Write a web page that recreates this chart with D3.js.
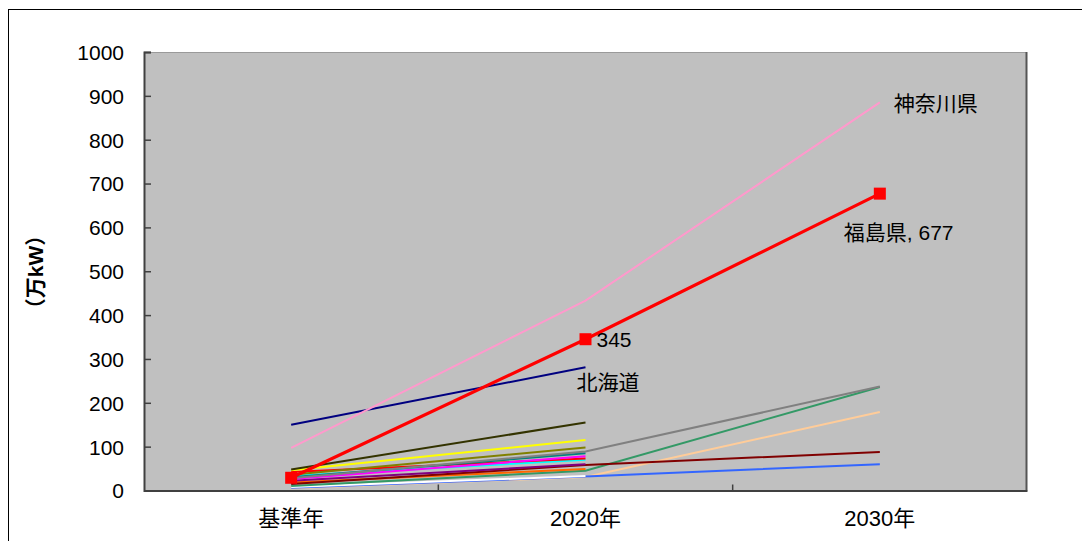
<!DOCTYPE html>
<html>
<head>
<meta charset="utf-8">
<script src="https://cdn.jsdelivr.net/npm/d3@7"></script>
<style>
  html, body { margin: 0; padding: 0; background: #fff; }
  svg { display: block; }
  text { font-family: "Liberation Sans", "Noto Sans CJK JP", sans-serif; fill: #000; }
</style>
</head>
<body>
<svg id="chart" width="1082" height="541"></svg>
<script>
// Categories along the x axis
const categories = ["基準年", "2020年", "2030年"];
const yTicks = [0, 100, 200, 300, 400, 500, 600, 700, 800, 900, 1000];

// Prefecture series (万kW); null = no value for that year
const hokkaido   = [150, 281, null];
const kanagawa   = [97, 433, 885];
const fukushima  = [29, 345, 677];
const seriesD    = [48, 155, null];
const seriesE    = [46, 115, null];
const seriesF    = [36, 98, null];
const seriesG    = [28, 89, 237];
const seriesH    = [30, 85, null];
const seriesI    = [26, 78, null];
const seriesJ    = [42, 73, null];
const seriesK    = [33, 70, null];
const seriesL    = [22, 60, null];
const seriesM    = [15, 58, 88];
const seriesN    = [18, 49, null];
const seriesO    = [10, 45, 236];
const seriesP    = [8, 33, null];
const seriesQ    = [6, 32, 60];
const seriesR    = [5, 31, 179];

const series = [
  { values: seriesR, color: "#FFCC99", width: 2 },
  { values: seriesQ, color: "#3366FF", width: 2 },
  { values: seriesP, color: "#FFFFFF", width: 2 },
  { values: seriesO, color: "#339966", width: 2 },
  { values: seriesN, color: "#FF6600", width: 2 },
  { values: seriesM, color: "#800000", width: 2 },
  { values: seriesL, color: "#800080", width: 2 },
  { values: seriesK, color: "#00FFFF", width: 2 },
  { values: seriesJ, color: "#FF0000", width: 2 },
  { values: seriesI, color: "#FF00FF", width: 2 },
  { values: seriesH, color: "#008080", width: 2 },
  { values: seriesG, color: "#808080", width: 2 },
  { values: seriesF, color: "#808000", width: 2 },
  { values: seriesE, color: "#FFFF00", width: 2 },
  { values: seriesD, color: "#333300", width: 2 },
  { values: hokkaido, color: "#000080", width: 2 },
  { values: kanagawa, color: "#FF99CC", width: 2 },
];

const svg = d3.select("#chart");

// Outer chart frame
svg.append("rect")
  .attr("x", 8.5).attr("y", 9.5)
  .attr("width", 1200).attr("height", 700)
  .attr("fill", "#fff").attr("stroke", "#000").attr("stroke-width", 1);

const plot = { left: 144, top: 52, right: 1027, bottom: 490.5 };

const x = d3.scaleBand().domain(categories).range([plot.left, plot.right]).padding(0);
const y = d3.scaleLinear().domain([0, 1000]).range([plot.bottom, plot.top]);
const cx = c => x(c) + x.bandwidth() / 2;

// Plot area
svg.append("rect")
  .attr("x", plot.left).attr("y", plot.top)
  .attr("width", plot.right - plot.left).attr("height", plot.bottom - plot.top)
  .attr("fill", "#C0C0C0");
svg.append("line")
  .attr("x1", plot.left).attr("x2", plot.right)
  .attr("y1", plot.top + 0.5).attr("y2", plot.top + 0.5)
  .attr("stroke", "#9a9a9a").attr("stroke-width", 1);
svg.append("line")
  .attr("x1", plot.right - 0.5).attr("x2", plot.right - 0.5)
  .attr("y1", plot.top).attr("y2", plot.bottom)
  .attr("stroke", "#555").attr("stroke-width", 2);

const line = d3.line()
  .defined(d => d.v != null)
  .x(d => cx(d.c))
  .y(d => y(d.v));

const toPts = vals => categories.map((c, i) => ({ c, v: vals[i] }));

const lines = svg.append("g");
series.forEach(s => {
  lines.append("path")
    .attr("d", line(toPts(s.values)))
    .attr("fill", "none")
    .attr("stroke", s.color)
    .attr("stroke-width", s.width);
});

// Fukushima highlighted
lines.append("path")
  .attr("d", line(toPts(fukushima)))
  .attr("fill", "none")
  .attr("stroke", "#FF0000")
  .attr("stroke-width", 3.2);
lines.selectAll("rect.mk")
  .data(toPts(fukushima))
  .join("rect")
  .attr("class", "mk")
  .attr("x", d => cx(d.c) - 6).attr("y", d => y(d.v) - 6)
  .attr("width", 12).attr("height", 12)
  .attr("fill", "#FF0000");

// Axes
const yAxis = d3.axisLeft(y).tickValues(yTicks).tickFormat(d3.format("d")).tickSize(-7).tickPadding(20);
const gy = svg.append("g").attr("transform", `translate(${plot.left},0)`).call(yAxis);
gy.select(".domain").attr("stroke", "#404040").attr("stroke-width", 2);
gy.selectAll(".tick line").attr("stroke", "#404040").attr("stroke-width", 1.5);
gy.selectAll(".tick text").attr("font-size", 21).attr("dy", "0.35em")
  .attr("font-family", "'Liberation Sans', sans-serif");

const xAxis = d3.axisBottom(x).tickSize(0).tickPadding(20);
const gx = svg.append("g").attr("transform", `translate(0,${plot.bottom})`).call(xAxis);
gx.select(".domain").attr("stroke", "#404040").attr("stroke-width", 2);
gx.selectAll(".tick text").attr("font-size", 22)
  .attr("font-family", "'Liberation Sans', 'Noto Sans CJK JP', sans-serif");
// Inward tick marks at category boundaries
gx.selectAll("line.sep")
  .data(categories.slice(1))
  .join("line")
  .attr("class", "sep")
  .attr("x1", d => x(d)).attr("x2", d => x(d))
  .attr("y1", 0).attr("y2", -6)
  .attr("stroke", "#404040").attr("stroke-width", 1.5);

// Y axis title
svg.append("text")
  .attr("transform", "translate(43,272) rotate(-90)")
  .attr("text-anchor", "middle")
  .attr("font-size", 21)
  .attr("font-weight", "bold")
  .text("（万kW）");

// Data labels
const labels = svg.append("g").attr("font-size", 21);
labels.append("text")
  .attr("x", cx("2030年") + 14).attr("y", y(kanagawa[2]) + 9)
  .text("神奈川県");
labels.append("text")
  .attr("x", cx("2030年") - 36).attr("y", y(fukushima[2]) + 46)
  .text("福島県, " + fukushima[2]);
labels.append("text")
  .attr("x", cx("2020年") + 11).attr("y", y(fukushima[1]) + 8)
  .text(fukushima[1]);
labels.append("text")
  .attr("x", cx("2020年") - 9).attr("y", y(hokkaido[1]) + 23)
  .text("北海道");
</script>
</body>
</html>
